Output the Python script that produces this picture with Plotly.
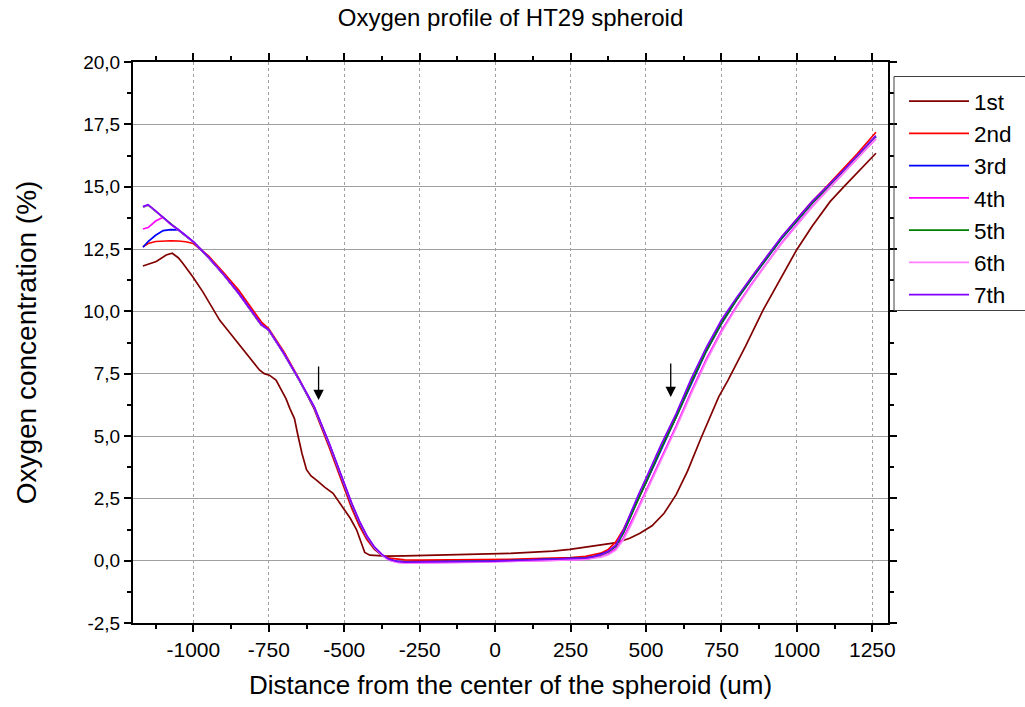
import plotly.graph_objects as go

# ---------------- data ----------------
series_names = ["1st", "2nd", "3rd", "4th", "5th", "6th", "7th"]
series_colors = ["#800000", "#FF0000", "#0000FF", "#FF00FF", "#008000", "#FF80FF", "#8000FF"]

x_first = [-1167, -1123, -1090, -1070, -1050, -1035, -1002, -969, -940, -913, -890, -869,
           -847, -825, -803, -781, -765, -748, -726, -710, -693, -680, -665, -653, -640,
           -625, -610, -592, -565, -537, -504, -480, -459, -445, -432, -415, -390, -360,
           -300, -250, -200, -139, -100, -50, 0, 50, 82, 130, 192, 248, 303, 358, 402,
           446, 480, 520, 560, 600, 638, 680, 741, 772, 830, 888, 944, 999, 1050, 1110,
           1160, 1210, 1262]
y_first = [11.82, 12.00, 12.26, 12.33, 12.15, 11.93, 11.39, 10.79, 10.20, 9.65, 9.30, 8.98,
           8.65, 8.31, 7.98, 7.65, 7.50, 7.44, 7.24, 6.90, 6.50, 6.10, 5.70, 5.00, 4.30,
           3.65, 3.40, 3.23, 2.95, 2.70, 2.10, 1.70, 1.24, 0.80, 0.33, 0.22, 0.19, 0.18,
           0.19, 0.20, 0.21, 0.23, 0.24, 0.25, 0.27, 0.29, 0.31, 0.34, 0.38, 0.45, 0.55,
           0.63, 0.72, 0.90, 1.10, 1.40, 1.90, 2.65, 3.60, 4.85, 6.57, 7.24, 8.60, 10.05,
           11.26, 12.46, 13.40, 14.40, 15.05, 15.70, 16.34]

x_main = [-1167, -1150, -1125, -1100, -1075, -1050, -1025, -1000, -950, -900, -850, -800,
          -775, -750, -700, -650, -600, -550, -500, -475, -450, -425, -400, -375, -350,
          -325, -300, -250, -200, -150, -100, -50, 0, 50, 100, 150, 200, 250, 300, 325,
          350, 375, 400, 425, 450, 475, 500, 550, 600, 650, 700, 750, 800, 850, 900, 950,
          1000, 1050, 1100, 1150, 1200, 1262]

y_second = [12.59, 12.72, 12.80, 12.82, 12.83, 12.82, 12.79, 12.72, 12.22, 11.56, 10.85, 10.00,
            9.58, 9.30, 8.38, 7.30, 6.10, 4.55, 2.90, 2.10, 1.40, 0.85, 0.45, 0.22, 0.10,
            0.05, 0.03, 0.02, 0.02, 0.02, 0.03, 0.03, 0.04, 0.05, 0.07, 0.08, 0.10, 0.12, 0.17, 0.22,
            0.30, 0.45, 0.75, 1.25, 1.85, 2.50, 3.15, 4.50, 5.78, 7.18, 8.45, 9.55, 10.50, 11.38, 12.18, 12.98,
            13.70, 14.40, 15.02, 15.65, 16.32, 17.18]

y_third = [12.57, 12.80, 13.05, 13.24, 13.28, 13.27, 13.03, 12.78, 12.15, 11.47, 10.74, 9.88,
           9.48, 9.24, 8.30, 7.25, 6.14, 4.65, 3.02, 2.22, 1.52, 0.94, 0.50, 0.21, 0.03,
           -0.03, -0.05, -0.05, -0.04, -0.03, -0.02, -0.02, -0.01, 0.01, 0.02, 0.04, 0.05, 0.07, 0.11, 0.16,
           0.25, 0.37, 0.58, 1.10, 1.80, 2.50, 3.12, 4.45, 5.72, 7.12, 8.40, 9.50, 10.45, 11.30, 12.12, 12.92,
           13.62, 14.33, 14.95, 15.56, 16.20, 17.00]

y_fourth = [13.30, 13.36, 13.62, 13.77, 13.50, 13.27, 13.02, 12.79, 12.17, 11.48, 10.72, 9.86,
            9.46, 9.25, 8.31, 7.27, 6.18, 4.70, 3.08, 2.28, 1.58, 0.98, 0.53, 0.22, 0.02,
            -0.06, -0.09, -0.09, -0.08, -0.07, -0.06, -0.05, -0.04, -0.03, -0.02, 0.00, 0.01, 0.03, 0.06, 0.10,
            0.17, 0.28, 0.48, 0.90, 1.50, 2.15, 2.80, 4.10, 5.40, 6.78, 8.08, 9.22, 10.20, 11.10, 11.95, 12.75,
            13.48, 14.20, 14.85, 15.48, 16.12, 16.92]

y_fifth = [14.18, 14.26, 14.01, 13.76, 13.49, 13.27, 13.02, 12.79, 12.17, 11.48, 10.72, 9.86,
           9.46, 9.25, 8.31, 7.26, 6.17, 4.69, 3.06, 2.26, 1.56, 0.97, 0.52, 0.23, 0.04,
           -0.04, -0.06, -0.06, -0.05, -0.04, -0.03, -0.03, -0.02, 0.00, 0.01, 0.03, 0.04, 0.06, 0.10, 0.15,
           0.23, 0.36, 0.58, 1.12, 1.82, 2.52, 3.15, 4.50, 5.76, 7.15, 8.42, 9.52, 10.46, 11.32, 12.14, 12.94,
           13.64, 14.34, 14.96, 15.57, 16.21, 17.01]

y_sixth = [14.19, 14.27, 14.02, 13.76, 13.49, 13.27, 13.02, 12.79, 12.17, 11.48, 10.72, 9.86,
           9.46, 9.25, 8.31, 7.27, 6.18, 4.70, 3.08, 2.28, 1.58, 0.98, 0.53, 0.22, 0.02,
           -0.07, -0.10, -0.10, -0.09, -0.08, -0.07, -0.06, -0.05, -0.04, -0.02, 0.00, 0.01, 0.03, 0.05, 0.08,
           0.14, 0.24, 0.42, 0.84, 1.42, 2.08, 2.72, 4.02, 5.32, 6.70, 8.00, 9.16, 10.15, 11.06, 11.92, 12.72,
           13.46, 14.18, 14.84, 15.48, 16.12, 16.94]

y_seventh = [14.20, 14.28, 14.03, 13.77, 13.50, 13.28, 13.03, 12.80, 12.18, 11.49, 10.73, 9.87,
             9.47, 9.26, 8.32, 7.28, 6.19, 4.72, 3.10, 2.30, 1.60, 1.00, 0.55, 0.25, 0.05,
             -0.03, -0.06, -0.06, -0.05, -0.04, -0.03, -0.03, -0.02, 0.00, 0.01, 0.03, 0.04, 0.06, 0.10, 0.15,
             0.24, 0.38, 0.62, 1.22, 1.95, 2.65, 3.30, 4.65, 5.90, 7.30, 8.55, 9.65, 10.55, 11.40, 12.20, 13.00,
             13.70, 14.40, 15.00, 15.60, 16.25, 17.05]

series_x = [x_first, x_main, x_main, x_main, x_main, x_main, x_main]
series_y = [y_first, y_second, y_third, y_fourth, y_fifth, y_sixth, y_seventh]

x_tick_vals = [-1000, -750, -500, -250, 0, 250, 500, 750, 1000, 1250]
x_tick_text = ["-1000", "-750", "-500", "-250", "0", "250", "500", "750", "1000", "1250"]
y_tick_vals = [-2.5, 0, 2.5, 5, 7.5, 10, 12.5, 15, 17.5, 20]
y_tick_text = ["-2,5", "0,0", "2,5", "5,0", "7,5", "10,0", "12,5", "15,0", "17,5", "20,0"]

arrow_x = [-585, 582]
arrow_y = [6.44, 6.56]

# ---------------- figure ----------------
FONT = "Liberation Sans, Arial, sans-serif"
PL, PR, PT, PB = 133, 888, 62, 623   # plot area in pixels
PW, PH = PR - PL, PB - PT

fig = go.Figure()
for i, name in enumerate(series_names):
    fig.add_trace(go.Scatter(
        x=series_x[i], y=series_y[i], mode="lines", name=name,
        line=dict(color=series_colors[i], width=1.7),
    ))

for ax_, ay_ in zip(arrow_x, arrow_y):
    fig.add_annotation(x=ax_, y=ay_, xref="x", yref="y", text="",
                       showarrow=True, ax=0, ay=-35, arrowhead=2, arrowsize=1.6,
                       arrowwidth=1.3, arrowcolor="black")

# legend frame
fig.add_shape(type="rect", xref="paper", yref="paper",
              x0=(894 - PL) / PW, x1=(1040 - PL) / PW,
              y0=(PB - 310.5) / PH, y1=(PB - 76.5) / PH,
              line=dict(color="#404040", width=1), fillcolor="rgba(0,0,0,0)", layer="above")

fig.update_layout(
    width=1025, height=707,
    margin=dict(l=PL, r=1025 - PR, t=PT, b=707 - PB, autoexpand=False),
    paper_bgcolor="white", plot_bgcolor="white",
    font=dict(family=FONT, color="black"),
    title=dict(text="Oxygen profile of HT29 spheroid", x=(PL + PR) / 2 / 1025,
               xanchor="center", y=1 - 18 / 707, yanchor="middle", yref="container",
               font=dict(size=24, family=FONT)),
    legend=dict(x=(904 - PL) / PW, y=(PB - 80) / PH, xanchor="left", yanchor="top",
                borderwidth=0, bgcolor="rgba(0,0,0,0)",
                font=dict(size=22.5, family=FONT), itemwidth=60),
    showlegend=True,
)

fig.update_xaxes(
    range=[-1200, 1302], tickvals=x_tick_vals, ticktext=x_tick_text,
    showline=True, linecolor="black", linewidth=2, mirror="ticks",
    ticks="outside", ticklen=7, tickwidth=2, tickcolor="black",
    minor=dict(dtick=125, tick0=-1125, ticks="outside", ticklen=4, tickwidth=2, tickcolor="black"),
    showgrid=True, gridcolor="#a0a0a0", gridwidth=1, griddash="dot",
    zeroline=False, tickfont=dict(size=21, family=FONT),
    title=dict(text="Distance from the center of the spheroid (um)", font=dict(size=26, family=FONT), standoff=16),
)
fig.update_yaxes(
    range=[-2.5, 20], tickvals=y_tick_vals, ticktext=y_tick_text,
    showline=True, linecolor="black", linewidth=2, mirror="ticks",
    ticks="outside", ticklen=7, tickwidth=2, tickcolor="black",
    minor=dict(dtick=1.25, tick0=-1.25, ticks="outside", ticklen=4, tickwidth=2, tickcolor="black"),
    showgrid=True, gridcolor="#a0a0a0", gridwidth=1,
    zeroline=False, tickfont=dict(size=19, family=FONT),
    title=dict(text="Oxygen concentration (%)", font=dict(size=28, family=FONT), standoff=38),
)

fig.write_html("out.html")
